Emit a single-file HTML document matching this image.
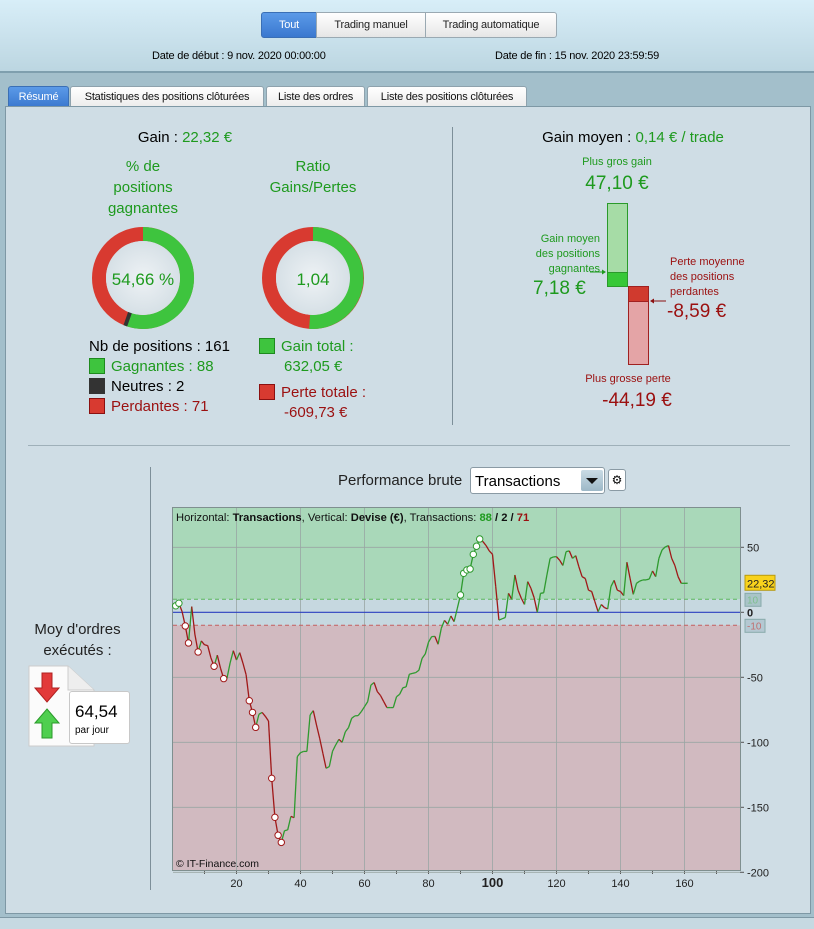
<!DOCTYPE html>
<html><head><meta charset="utf-8">
<style>
*{box-sizing:border-box}
body{margin:0;width:814px;height:929px;overflow:hidden;background:#a3bfcb;font-family:"Liberation Sans",sans-serif;position:relative}
.abs{position:absolute}
#hdr{left:0;top:0;width:814px;height:73px;background:linear-gradient(#d8eef8,#bcd6e1);border-bottom:2px solid #7f9fae}
.btn{position:absolute;top:12px;height:26px;font-size:11px;line-height:24px;text-align:center;border:1px solid #9aa9b2;background:linear-gradient(#fff,#e6e6e6);color:#222;letter-spacing:-0.2px}
.tab{position:absolute;top:86px;height:21px;font-size:11px;line-height:20px;text-align:center;border:1px solid #8ea2ad;border-bottom:none;background:linear-gradient(#fff,#ececec);border-radius:3px 3px 0 0;color:#111;letter-spacing:-0.2px}
#panel{left:5px;top:106px;width:806px;height:808px;background:#cfdde5;border:1px solid #7e98a5}
.g{color:#1e9a1e}.r{color:#9b1010}
.t{position:absolute;white-space:nowrap}
.sq{display:inline-block;width:16px;height:16px;vertical-align:-3px;border:1px solid #333;margin-right:6px}
</style></head><body>
<div id="hdr" class="abs">
 <div class="btn" style="left:261px;width:56px;background:linear-gradient(#5b9ae8,#3a78cf);color:#fff;border-color:#3a6fb5;border-radius:3px 0 0 3px">Tout</div>
 <div class="btn" style="left:316px;width:110px">Trading manuel</div>
 <div class="btn" style="left:425px;width:132px;border-radius:0 3px 3px 0">Trading automatique</div>
 <div class="t" style="left:152px;top:50px;font-size:11px;letter-spacing:-0.2px">Date de début :  9 nov. 2020 00:00:00</div>
 <div class="t" style="left:495px;top:50px;font-size:11px;letter-spacing:-0.2px">Date de fin :  15 nov. 2020 23:59:59</div>
</div>
<div class="tab" style="left:8px;width:61px;background:linear-gradient(#5b9ae8,#3a78cf);color:#fff;border-color:#3a6fb5">Résumé</div>
<div class="tab" style="left:70px;width:194px">Statistiques des positions clôturées</div>
<div class="tab" style="left:266px;width:99px">Liste des ordres</div>
<div class="tab" style="left:367px;width:160px">Liste des positions clôturées</div>
<div id="panel" class="abs"></div>
<div class="abs" style="left:0;top:917px;width:814px;height:12px;background:#c6d9e2;border-top:1px solid #7e98a5"></div>

<div class="abs" style="left:452px;top:127px;width:1px;height:298px;background:#7d8f99"></div>
<div class="abs" style="left:28px;top:445px;width:762px;height:1px;background:#9fb0b9"></div>
<div class="abs" style="left:150px;top:467px;width:1px;height:423px;background:#7d8f99"></div>

<div class="t" style="left:0;width:370px;text-align:center;top:129px;font-size:15px">Gain : <span class="g">22,32 €</span></div>
<div class="t g" style="left:83px;width:120px;text-align:center;top:156px;font-size:15px;line-height:21px;white-space:normal">% de<br>positions<br>gagnantes</div>
<div class="t g" style="left:250px;width:126px;text-align:center;top:156px;font-size:15px;line-height:21px">Ratio<br>Gains/Pertes</div>

<svg class="abs" style="left:0;top:0" width="814" height="929">
 <defs>
  <radialGradient id="inner"><stop offset="0" stop-color="#eef2f5"/><stop offset="1" stop-color="#d6e0e6"/></radialGradient>
 </defs>
 <g>
  <circle cx="143" cy="278" r="44" fill="none" stroke="#d83a30" stroke-width="14"/>
  <path d="M143,234 A44,44 0 1 1 127.6,319.2" fill="none" stroke="#3ec43e" stroke-width="14"/>
  <path d="M129.5,319.8 L125.8,318.5" stroke="#333" stroke-width="14"/>
  <circle cx="143" cy="278" r="37" fill="url(#inner)"/>
  <text x="143" y="285" font-size="17" text-anchor="middle" fill="#1e9a1e" font-family="Liberation Sans">54,66 %</text>
 </g>
 <g>
  <circle cx="313" cy="278" r="44" fill="none" stroke="#d83a30" stroke-width="14"/>
  <path d="M313,234 A44,44 0 1 1 309.6,321.9" fill="none" stroke="#3ec43e" stroke-width="14"/>
  <circle cx="313" cy="278" r="37" fill="url(#inner)"/>
  <text x="313" y="285" font-size="17" text-anchor="middle" fill="#1e9a1e" font-family="Liberation Sans">1,04</text>
 </g>
 <g>
  <rect x="607.5" y="203.5" width="20" height="83" fill="#a6dca6" stroke="#2a9a2a"/>
  <rect x="607.5" y="272.5" width="20" height="14" fill="#37c837" stroke="#2a9a2a"/>
  <rect x="628.5" y="286.5" width="20" height="78" fill="#e4a4a6" stroke="#a02020"/>
  <rect x="628.5" y="286.5" width="20" height="15" fill="#d03a2e" stroke="#a02020"/>
  <line x1="590" y1="272" x2="604" y2="272" stroke="#1e9a1e"/><path d="M606,272 l-4,-2.5 v5z" fill="#1e9a1e"/>
  <line x1="652" y1="301" x2="666" y2="301" stroke="#8b1010"/><path d="M650,301 l4,-2.5 v5z" fill="#8b1010"/>
 </g>
</svg>

<div class="t" style="left:89px;top:337px;font-size:15px;line-height:20px">
 Nb de positions : 161<br>
 <span class="g"><span class="sq" style="background:#3ec43e;border-color:#1e8a1e"></span>Gagnantes : 88</span><br>
 <span><span class="sq" style="background:#333"></span>Neutres : 2</span><br>
 <span class="r"><span class="sq" style="background:#d83a30;border-color:#8b1010"></span>Perdantes : 71</span>
</div>
<div class="t" style="left:259px;top:337px;font-size:15px;line-height:20px">
 <span class="g"><span class="sq" style="background:#3ec43e;border-color:#1e8a1e"></span>Gain total :<br>&nbsp;&nbsp;&nbsp;&nbsp;&nbsp;&nbsp;632,05 €</span><br>
 <div style="height:6px"></div>
 <span class="r"><span class="sq" style="background:#d83a30;border-color:#8b1010"></span>Perte totale :<br>&nbsp;&nbsp;&nbsp;&nbsp;&nbsp;&nbsp;-609,73 €</span>
</div>

<div class="t" style="left:452px;width:362px;text-align:center;top:129px;font-size:15px">Gain moyen : <span class="g">0,14 € / trade</span></div>
<div class="t g" style="left:567px;width:100px;text-align:center;top:156px;font-size:11px">Plus gros gain</div>
<div class="t g" style="left:557px;width:120px;text-align:center;top:173px;font-size:19px">47,10 €</div>
<div class="t g" style="left:510px;width:90px;text-align:right;top:232px;font-size:11px;line-height:15px">Gain moyen<br>des positions<br>gagnantes</div>
<div class="t g" style="left:533px;top:278px;font-size:19px">7,18 €</div>
<div class="t r" style="left:670px;top:255px;font-size:11px;line-height:15px">Perte moyenne<br>des positions<br>perdantes</div>
<div class="t r" style="left:667px;top:301px;font-size:19px">-8,59 €</div>
<div class="t r" style="left:578px;width:100px;text-align:center;top:373px;font-size:11px">Plus grosse perte</div>
<div class="t r" style="left:577px;width:120px;text-align:center;top:390px;font-size:19px">-44,19 €</div>

<div class="t" style="left:0;width:155px;text-align:center;top:619px;font-size:15px;line-height:21px;color:#222">Moy d'ordres<br>exécutés :</div>
<svg class="abs" style="left:28px;top:665px" width="102" height="82">
 <path d="M1,1 H40 L66,25 V81 H1Z" fill="#fbfbfb" stroke="#ccc"/>
 <path d="M40,1 V25 H66" fill="#eee" stroke="#ccc"/>
 <path d="M14,8 h10 v15 h7 l-12,14 l-12,-14 h7z" fill="#e23a3a" stroke="#b02020"/>
 <path d="M19,44 l12,14 h-7 v15 h-10 v-15 h-7z" fill="#4fcf4f" stroke="#2a9a2a"/>
</svg>
<div class="abs" style="left:69px;top:691px;width:61px;height:53px;background:#fff;border:1px solid #c8c8c8;border-radius:3px">
 <div class="t" style="left:5px;top:10px;font-size:17px">64,54</div>
 <div class="t" style="left:5px;top:33px;font-size:10px">par jour</div>
</div>

<div class="t" style="left:338px;top:472px;font-size:15px;color:#222">Performance brute</div>
<div class="abs" style="left:470px;top:467px;width:135px;height:27px;background:#fff;border:1px solid #8a9aa4;border-radius:3px">
 <div class="t" style="left:4px;top:5px;font-size:15px">Transactions</div>
 <div class="abs" style="left:110px;top:2px;width:22px;height:21px;background:linear-gradient(#c9dbe5,#9db8c7);border-radius:2px"><svg width="22" height="21"><path d="M5,8 h12 l-6,6z" fill="#111"/></svg></div>
</div>
<div class="abs" style="left:608px;top:469px;width:18px;height:22px;background:#fff;border:1px solid #8a9aa4;border-radius:3px;font-size:12px;text-align:center;line-height:20px">⚙</div>

<svg id="chart" class="abs" style="left:0;top:0" width="814" height="929"></svg>

<script>
const txIndex=[];for(let i=1;i<=161;i++)txIndex.push(i);
const equity=[5,7,0.5,-10.5,-23.6,4.4,-17,-30.5,-22,-25,-25.6,-35,-41.5,-33,-43,-51,-51,-39,-29.5,-36.7,-31,-39,-48,-68,-77,-88.5,-78.5,-77,-80,-83.6,-127.7,-157.7,-171.5,-177,-168,-167.4,-157,-158,-111,-108,-107,-107,-79,-75.6,-86.7,-97,-108.5,-120,-118.7,-107,-102,-97.7,-100,-92,-88.7,-81.5,-79.7,-79.5,-76.4,-72.6,-68.7,-56,-54,-61,-64,-68.7,-73.3,-73.3,-73.3,-65,-63,-58,-57.4,-47.7,-47,-46.4,-44.6,-35.4,-32,-23,-18.7,-18.5,-24.6,-12.3,-6.2,-9.2,-2.8,-7.2,3,13.3,30,32.6,33.3,44.6,50.8,56.4,54.4,51.3,47.2,44.6,20,-6,-5,-4,14.6,10,28.7,17,10.8,6,23.6,18.5,11.3,0,14.6,15,28.7,41.5,42.6,42.8,40,36,46.7,47.2,41.5,43.6,35,27.4,26,17,16,8.2,0.5,6,3.6,2.6,19.7,24.6,17,16,12.8,38.5,26,13.8,22.3,24,24.9,24.9,25.6,31.8,27.4,41.5,48,50.3,51.3,41.5,36,27.4,22.3,22.3,22.32];
const markerIdx=[1,2,4,5,8,13,16,24,25,26,31,32,33,34,90,91,92,93,94,95,96];
const xTicks=[20,40,60,80,100,120,140,160];
const yTicks=[50,0,-50,-100,-150,-200];
const X0=172.5,XS=3.2,Y0=612.3,YS=1.3;
const xs=v=>X0+v*XS, ys=v=>Y0-v*YS;
const NS='http://www.w3.org/2000/svg';
const svg=document.getElementById('chart');
function mk(t,a,p){const e=document.createElementNS(NS,t);for(const k in a)e.setAttribute(k,a[k]);(p||svg).appendChild(e);return e;}
const L=173,R=740,T=508,B=870;
const bgUp=mk('rect',{x:L,y:T,width:R-L,height:ys(10)-T,fill:'#a9d8b9'});


mk('rect',{x:L,y:ys(10),width:R-L,height:ys(-10)-ys(10),fill:'#c6d8e0'});
const bgDn=mk('rect',{x:L,y:ys(-10),width:R-L,height:B-ys(-10),fill:'#d1bac0'});


xTicks.forEach(v=>{mk('line',{x1:xs(v),y1:T,x2:xs(v),y2:B,stroke:'#9aa6a4','stroke-width':0.8});
 const t=mk('text',{x:xs(v),y:887,'font-size':v===100?13:11,'font-weight':v===100?'bold':'normal','text-anchor':'middle',fill:'#222','font-family':'Liberation Sans'});t.textContent=v;
 
 });
for(let v=10;v<=170;v+=10)mk('line',{x1:xs(v),y1:B+1,x2:xs(v),y2:B+4,stroke:'#555'});
yTicks.forEach(v=>{if(v!==0)mk('line',{x1:L,y1:ys(v),x2:R,y2:ys(v),stroke:'#9aa6a4','stroke-width':0.8});
 mk('line',{x1:R,y1:ys(v),x2:R+4,y2:ys(v),stroke:'#555'});
 const t=mk('text',{x:747,y:ys(v)+4,'font-size':11,fill:'#222','font-family':'Liberation Sans','font-weight':v===0?'bold':'normal'});t.textContent=v;
 
 });
mk('line',{x1:L,y1:ys(10),x2:R,y2:ys(10),stroke:'#5cb85c','stroke-dasharray':'4,3'});
mk('line',{x1:L,y1:ys(-10),x2:R,y2:ys(-10),stroke:'#c46060','stroke-dasharray':'4,3'});
mk('line',{x1:L,y1:ys(0),x2:R,y2:ys(0),stroke:'#2a3fc0','stroke-width':1.2});
mk('rect',{x:L-0.5,y:T-0.5,width:R-L+1,height:B-T+1,fill:'none',stroke:'#7f8f8f'});
for(let i=1;i<equity.length;i++){
 const up=equity[i]>=equity[i-1];
 const s=mk('line',{x1:xs(txIndex[i-1]),y1:ys(equity[i-1]),x2:xs(txIndex[i]),y2:ys(equity[i]),stroke:up?'#2e9a2e':'#a01818','stroke-width':1.3});
 
 
}
markerIdx.forEach(n=>{const i=n-1;const up=i===0||equity[i]>=equity[i-1];
 const c=mk('circle',{cx:xs(txIndex[i]),cy:ys(equity[i]),r:3.2,fill:'#fff',stroke:up?'#2e9a2e':'#a01818','stroke-width':1});
 
 });
const hd=mk('text',{x:176,y:521,'font-size':11.2,fill:'#111','font-family':'Liberation Sans'});


hd.innerHTML='Horizontal: <tspan font-weight="bold">Transactions</tspan>, Vertical: <tspan font-weight="bold">Devise (€)</tspan>, Transactions: <tspan font-weight="bold" fill="#1e9a1e">88</tspan><tspan font-weight="bold"> / 2 / </tspan><tspan font-weight="bold" fill="#9b1010">71</tspan>';
const cp=mk('text',{x:176,y:867,'font-size':10.5,fill:'#111','font-family':'Liberation Sans'});cp.textContent='© IT-Finance.com';


const last=equity[equity.length-1];
const lb=mk('rect',{x:745,y:ys(last)-8,width:30,height:15,fill:'#f8d21c',stroke:'#b89a10'});


const lt=mk('text',{x:747,y:ys(last)+4,'font-size':11,fill:'#222','font-family':'Liberation Sans'});lt.textContent=last.toFixed(2).replace('.',',');
mk('rect',{x:745,y:ys(10)-6,width:16,height:13,fill:'#a9c4c8',stroke:'#8aa'});
const t10=mk('text',{x:747,y:ys(10)+4,'font-size':10,fill:'#7fbf8f','font-family':'Liberation Sans'});t10.textContent='10';
mk('rect',{x:745,y:ys(-10)-6,width:20,height:13,fill:'#b4c8d2',stroke:'#8aa'});
const tm=mk('text',{x:747,y:ys(-10)+4,'font-size':10,fill:'#c07070','font-family':'Liberation Sans'});tm.textContent='-10';
</script>
</body></html>
